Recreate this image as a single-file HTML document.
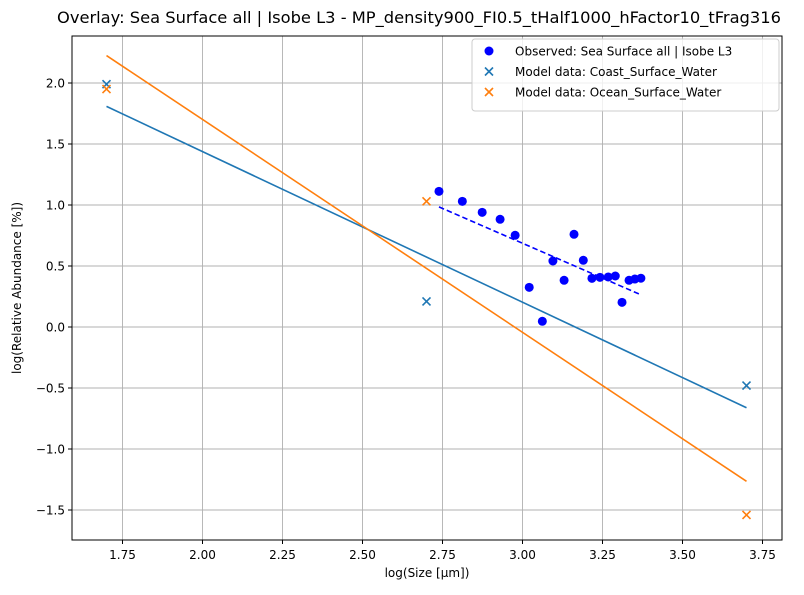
<!DOCTYPE html>
<html><head><meta charset="utf-8"><style>
body{margin:0;background:#fff;}
svg text{font-family:"DejaVu Sans","Liberation Sans",sans-serif;fill:#000;}
</style></head><body>
<svg id="chart" width="804" height="590"></svg>
<script>
const obsX=[2.739,2.812,2.874,2.930,2.977,3.021,3.062,3.095,3.130,3.161,3.190,3.217,3.242,3.268,3.290,3.311,3.333,3.351,3.370];
const obsY=[1.112,1.030,0.940,0.883,0.752,0.325,0.047,0.541,0.383,0.760,0.547,0.399,0.407,0.410,0.418,0.202,0.383,0.393,0.400];
const modelX=[1.70,2.70,3.70];
const coastY=[1.99,0.21,-0.48];
const oceanY=[1.95,1.03,-1.54];
const xTicks=[1.75,2.00,2.25,2.50,2.75,3.00,3.25,3.50,3.75];
const yTicks=[-1.5,-1.0,-0.5,0.0,0.5,1.0,1.5,2.0];

const L=72,R=782,T=36,B=540;
const xs=v=>122.5+(v-1.75)*320;
const ys=v=>327-v*122;
const svg=document.getElementById('chart');
const NS='http://www.w3.org/2000/svg';
function mk(tag,attrs,parent){const e=document.createElementNS(NS,tag);for(const k in attrs)e.setAttribute(k,attrs[k]);(parent||svg).appendChild(e);return e;}
function fit(x,y){const n=x.length;let mx=0,my=0;for(let i=0;i<n;i++){mx+=x[i];my+=y[i];}mx/=n;my/=n;let sxy=0,sxx=0;for(let i=0;i<n;i++){sxy+=(x[i]-mx)*(y[i]-my);sxx+=(x[i]-mx)**2;}const m=sxy/sxx;return [m,my-m*mx];}

// title
let t=mk('text',{x:419,y:23,'text-anchor':'middle','font-size':16.3});
t.textContent='Overlay: Sea Surface all | Isobe L3 - MP_density900_FI0.5_tHalf1000_hFactor10_tFrag316';



// grid + ticks
xTicks.forEach(v=>{const x=xs(v);
 const g=mk('line',{x1:x,x2:x,y1:T,y2:B,stroke:'#b0b0b0','stroke-width':0.9});
 
 
 mk('line',{x1:x,x2:x,y1:B,y2:B+4,stroke:'#000'});
 const l=mk('text',{x:x,y:B+19,'text-anchor':'middle','font-size':12});l.textContent=v.toFixed(2);
 
 
});
yTicks.forEach(v=>{const y=ys(v);
 const g=mk('line',{x1:L,x2:R,y1:y,y2:y,stroke:'#b0b0b0','stroke-width':0.9});
 
 
 mk('line',{x1:L-4,x2:L,y1:y,y2:y,stroke:'#000'});
 const l=mk('text',{x:L-7,y:y+4.5,'text-anchor':'end','font-size':12});l.textContent=(v<0?'\u2212'+Math.abs(v).toFixed(1):v.toFixed(1));
 
 
});

// fit lines
function fitLine(x,y,x0,x1,color,dash,name){const [m,b]=fit(x,y);
 const e=mk('line',{x1:xs(x0),y1:ys(m*x0+b),x2:xs(x1),y2:ys(m*x1+b),stroke:color,'stroke-width':1.6});
 if(dash)e.setAttribute('stroke-dasharray',dash);
 
 }
fitLine(modelX,coastY,modelX[0],modelX[modelX.length-1],'#1f77b4',null,'coast-fit-line');
fitLine(modelX,oceanY,modelX[0],modelX[modelX.length-1],'#ff7f0e',null,'ocean-fit-line');
fitLine(obsX,obsY,Math.min(...obsX),Math.max(...obsX),'#0000ff','5.5,3','observed-fit-line');

// observed points
obsX.forEach((v,i)=>{const c=mk('circle',{cx:xs(v),cy:ys(obsY[i]),r:4.5,fill:'#0000ff'});
 
 });
function cross(x,y,color,name){const g=mk('g',{stroke:color,'stroke-width':1.6});
 mk('line',{x1:x-4,y1:y-4,x2:x+4,y2:y+4},g);mk('line',{x1:x-4,y1:y+4,x2:x+4,y2:y-4},g);
 
 }
modelX.forEach((v,i)=>{cross(xs(v),ys(coastY[i]),'#1f77b4','coast-model-point');cross(xs(v),ys(oceanY[i]),'#ff7f0e','ocean-model-point');});

// frame
mk('rect',{x:L,y:T,width:R-L,height:B-T,fill:'none',stroke:'#000','stroke-width':1});

// axis titles
let xl=mk('text',{x:427,y:577,'text-anchor':'middle','font-size':12});xl.textContent='log(Size [µm])';


let yl=mk('text',{x:21,y:288,'text-anchor':'middle','font-size':12,transform:'rotate(-90 21 288)'});yl.textContent='log(Relative Abundance [%])';



// legend
const lg=mk('g',{});


mk('rect',{x:472,y:39,width:307,height:72,rx:3,fill:'#fff','fill-opacity':0.8,stroke:'#cccccc'},lg);
const entries=[['Observed: Sea Surface all | Isobe L3','#0000ff','o'],['Model data: Coast_Surface_Water','#1f77b4','x'],['Model data: Ocean_Surface_Water','#ff7f0e','x']];
entries.forEach((e,i)=>{const y=51+i*20.5;
 const g=mk('g',{},lg);
 
 
 if(e[2]==='o')mk('circle',{cx:489,cy:y,r:4.5,fill:e[1]},g);
 else{mk('line',{x1:485,y1:y-4,x2:493,y2:y+4,stroke:e[1],'stroke-width':1.6},g);mk('line',{x1:485,y1:y+4,x2:493,y2:y-4,stroke:e[1],'stroke-width':1.6},g);}
 const tx=mk('text',{x:515,y:y+4.5,'font-size':12},g);tx.textContent=e[0];});
</script>
</body></html>
